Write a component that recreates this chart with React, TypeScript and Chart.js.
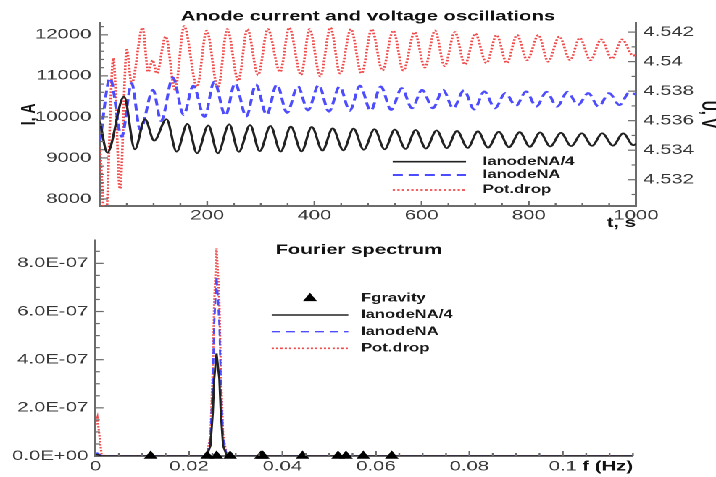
import React, { useEffect, useRef } from 'react';
import { Chart, registerables } from 'chart.js';

Chart.register(...registerables);

// ---------- layout constants (not data) ----------
const W = 494;
const S = 716 / W;
const TOP_H = 232;
const BOT_H = 245;
const FONT = "'Liberation Sans', Arial, Helvetica, sans-serif";
const AXIS = '#6b6b6b';
const TICK_TXT = '#383838';
const RED = '#f04a4a';
const BLUE = '#4d4dff';
const BLACK = '#222222';

// ---------- top panel data ----------
const timeTicks = [200, 400, 600, 800, 1000];
const timeTickLabels = ['200', '400', '600', '800', '1000'];
const currentTicks = [8000, 9000, 10000, 11000, 12000];
const currentTickLabels = ['8000', '9000', '10000', '11000', '12000'];
const voltageTicks = [4.532, 4.534, 4.536, 4.538, 4.54, 4.542];
const voltageTickLabels = ['4.532', '4.534', '4.536', '4.538', '4.54', '4.542'];

const blackT = [0, 13.6, 44.8, 65, 84, 101, 124, 143, 163, 181, 202, 220, 241, 259, 280, 298, 318, 337, 356, 376, 395, 415, 434, 454, 473, 492, 512, 531, 550, 570, 589, 608, 628, 647, 666, 686, 705, 724, 744, 763, 783, 802, 821, 840, 860, 879, 899, 918, 937, 957, 976, 995, 1000];
const blackI = [9885, 9130, 10495, 9212, 9944, 9420, 9944, 9154, 9830, 9115, 9790, 9115, 9820, 9150, 9800, 9165, 9780, 9155, 9765, 9160, 9755, 9180, 9720, 9185, 9715, 9200, 9700, 9210, 9690, 9220, 9680, 9230, 9670, 9240, 9660, 9245, 9650, 9250, 9640, 9260, 9630, 9270, 9620, 9280, 9610, 9290, 9600, 9295, 9600, 9300, 9600, 9310, 9340];

const blueT = [0, 18.7, 40.5, 59, 75, 99, 114, 136, 156, 174, 195, 213, 234, 252, 273, 291, 311, 330, 349, 369, 388, 408, 427, 447, 466, 485, 505, 524, 543, 563, 582, 601, 621, 640, 659, 679, 698, 717, 737, 756, 776, 795, 814, 833, 853, 872, 892, 911, 930, 950, 969, 988, 1000];
const blueI = [9400, 10944, 9520, 10822, 9683, 10658, 9900, 10960, 10050, 10760, 10000, 10860, 10030, 10820, 10010, 10790, 10050, 10790, 10100, 10750, 10160, 10780, 10130, 10740, 10150, 10760, 10150, 10740, 10170, 10700, 10210, 10660, 10210, 10660, 10210, 10650, 10180, 10620, 10210, 10580, 10270, 10620, 10250, 10610, 10250, 10610, 10290, 10580, 10250, 10580, 10290, 10600, 10540];

const redT = [0, 10, 24.9, 37.3, 49.8, 59, 79.5, 90, 98, 106, 122.5, 140, 157, 181, 199, 220, 237.5, 258, 275, 295, 313, 336, 353, 375, 391, 411, 430, 448, 468, 488, 507, 527, 547, 566, 587, 606, 625, 643, 662, 681, 700, 721, 740, 759, 778, 797, 818, 836, 857, 877, 895, 915, 935, 955, 974, 995, 1000];
const redU = [4.5342, 4.529, 4.54024, 4.53138, 4.5408, 4.5385, 4.5423, 4.5393, 4.5401, 4.5392, 4.5417, 4.5381, 4.5424, 4.5383, 4.5421, 4.5382, 4.5422, 4.5387, 4.5422, 4.5391, 4.5422, 4.5393, 4.5423, 4.5391, 4.5422, 4.539, 4.5423, 4.5392, 4.5422, 4.5392, 4.5422, 4.5394, 4.5421, 4.5394, 4.542, 4.5396, 4.5421, 4.5397, 4.542, 4.5398, 4.5419, 4.5399, 4.5418, 4.5399, 4.5418, 4.5401, 4.5418, 4.54, 4.5417, 4.5401, 4.5416, 4.5401, 4.5415, 4.5402, 4.5415, 4.5404, 4.5405];

// ---------- bottom panel data ----------
const freqTicks = [0, 0.02, 0.04, 0.06, 0.08, 0.1];
const freqTickLabels = ['0', '0.02', '0.04', '0.06', '0.08', '0.1'];
const ampTicks = [0, 2e-7, 4e-7, 6e-7, 8e-7];
const ampTickLabels = ['0.0E+00', '2.0E-07', '4.0E-07', '6.0E-07', '8.0E-07'];

const specF = [0, 0.0004, 0.0013, 0.0022, 0.0238, 0.0246, 0.0251, 0.0254, 0.0259, 0.0265, 0.0268, 0.0273, 0.0281, 0.115];
const specRed = [1.3e-7, 1.58e-7, 0.05e-7, 0, 0, 0.87e-7, 3.64e-7, 6.4e-7, 8.62e-7, 6.4e-7, 3.64e-7, 0.87e-7, 0, 0];
const specBlue = [0.1e-7, 0.12e-7, 0.01e-7, 0, 0, 0.75e-7, 3.1e-7, 5.5e-7, 7.44e-7, 5.5e-7, 3.1e-7, 0.75e-7, 0, 0];
const specBlack = [0.05e-7, 0.06e-7, 0, 0, 0, 0.43e-7, 1.8e-7, 3.2e-7, 4.26e-7, 3.2e-7, 1.8e-7, 0.43e-7, 0, 0];

const gravityF = [0.0118, 0.0239, 0.0259, 0.0288, 0.0354, 0.0358, 0.0443, 0.0519, 0.0536, 0.0573, 0.0634];
const gravityA = [0, 0, 0, 0, 0, 0, 0, 0, 0, 0, 0];

// ---------- helpers ----------
function minorSteps(from: number, to: number, step: number, every: number): number[] {
  const out: number[] = [];
  const n = Math.round((to - from) / step);
  for (let i = 0; i <= n; i++) if (i % every !== 0) out.push(from + i * step);
  return out;
}

function xy(xs: number[], ys: number[]) {
  return xs.map((x, i) => ({ x, y: ys[i] }));
}

type TickSet = { id: string; major: number[]; minor: number[] };

function tickMarksPlugin(sets: TickSet[]) {
  return {
    id: 'tickMarks',
    afterDraw(chart: any) {
      const ctx = chart.ctx;
      const a = chart.chartArea;
      ctx.save();
      ctx.strokeStyle = AXIS;
      ctx.lineWidth = 1.2;
      ctx.setLineDash([]);
      sets.forEach((s) => {
        const sc = chart.scales[s.id];
        const draw = (v: number, len: number) => {
          const p = sc.getPixelForValue(v);
          ctx.beginPath();
          if (sc.axis === 'x') {
            ctx.moveTo(p, a.bottom);
            ctx.lineTo(p, a.bottom - len);
          } else if (sc.position === 'left') {
            ctx.moveTo(a.left, p);
            ctx.lineTo(a.left + len, p);
          } else {
            ctx.moveTo(a.right, p);
            ctx.lineTo(a.right - len, p);
          }
          ctx.stroke();
        };
        const isX = sc.axis === 'x';
        s.major.forEach((v) => draw(v, isX ? 5 : 5.5));
        s.minor.forEach((v) => draw(v, 3));
      });
      ctx.restore();
    },
  };
}

type LegendLayout = { x1: number; x2: number; tx: number; rows: number[]; triX?: number; triR?: number };

function legendPlugin(L: LegendLayout, extra?: (chart: any) => void) {
  return {
    id: 'customLegend',
    afterDraw(chart: any) {
      const ctx = chart.ctx;
      ctx.save();
      chart.data.datasets.forEach((ds: any, i: number) => {
        const y = L.rows[i];
        if (ds.showLine === false) {
          const r = L.triR || 5;
          const cx = L.triX || (L.x1 + L.x2) / 2;
          ctx.beginPath();
          ctx.moveTo(cx, y - r);
          ctx.lineTo(cx + r * 0.866, y + r / 2);
          ctx.lineTo(cx - r * 0.866, y + r / 2);
          ctx.closePath();
          ctx.fillStyle = ds.backgroundColor;
          ctx.fill();
        } else {
          ctx.beginPath();
          ctx.setLineDash(ds.borderDash || []);
          ctx.lineWidth = ds.borderWidth;
          ctx.strokeStyle = ds.borderColor;
          ctx.moveTo(L.x1, y);
          ctx.lineTo(L.x2, y);
          ctx.stroke();
          ctx.setLineDash([]);
        }
        ctx.font = `bold 11.5px ${FONT}`;
        ctx.fillStyle = '#1a1a1a';
        ctx.textBaseline = 'middle';
        ctx.textAlign = 'left';
        ctx.fillText(ds.label, L.tx, y);
      });
      if (extra) extra(chart);
      ctx.restore();
    },
  };
}

const tickFont = { family: FONT, size: 14 };
const boldFont = { family: FONT, size: 14, weight: 'bold' as const };

function fixTicks(values: number[]) {
  return (axis: any) => {
    axis.ticks = values.map((v) => ({ value: v }));
  };
}

export default function App() {
  const topRef = useRef<HTMLCanvasElement>(null);
  const botRef = useRef<HTMLCanvasElement>(null);

  useEffect(() => {
    Chart.defaults.font.family = FONT;

    const top = new Chart(topRef.current as HTMLCanvasElement, {
      type: 'line',
      data: {
        datasets: [
          {
            label: 'IanodeNA/4',
            data: xy(blackT, blackI),
            yAxisID: 'yI',
            borderColor: BLACK,
            borderWidth: 1.7,
            pointRadius: 0,
            cubicInterpolationMode: 'monotone',
          },
          {
            label: 'IanodeNA',
            data: xy(blueT, blueI),
            yAxisID: 'yI',
            borderColor: BLUE,
            borderWidth: 2,
            borderDash: [7, 4],
            pointRadius: 0,
            cubicInterpolationMode: 'monotone',
          },
          {
            label: 'Pot.drop',
            data: xy(redT, redU),
            yAxisID: 'yU',
            borderColor: RED,
            borderWidth: 1.8,
            borderDash: [1.6, 1.6],
            pointRadius: 0,
            cubicInterpolationMode: 'monotone',
          },
        ] as any,
      },
      options: {
        animation: false,
        responsive: false,
        devicePixelRatio: 2,
        layout: { padding: 0 },
        plugins: {
          legend: { display: false },
          tooltip: { enabled: false },
          title: {
            display: true,
            fullSize: false,
            text: 'Anode current and voltage oscillations',
            font: boldFont,
            color: '#111111',
            padding: { top: 8, bottom: -2 },
          },
        },
        scales: {
          x: {
            type: 'linear',
            position: 'bottom',
            min: 0,
            max: 1000,
            bounds: 'data',
            grid: { display: false, drawTicks: false },
            border: { display: true, color: AXIS, width: 2 },
            ticks: {
              font: tickFont,
              color: TICK_TXT,
              padding: 1,
              autoSkip: false,
              maxRotation: 0,
              minRotation: 0,
              callback: (_v: any, i: number) => timeTickLabels[i],
            },
            afterBuildTicks: fixTicks(timeTicks),
            afterFit: (s: any) => {
              s.height = 26;
              s.paddingLeft = 0;
              s.paddingRight = 0;
            },
            title: {
              display: true,
              text: 't, s',
              align: 'end',
              font: boldFont,
              color: '#111111',
              padding: { top: 0, bottom: 0.5 },
            },
          },
          yI: {
            type: 'linear',
            position: 'left',
            min: 7829,
            max: 12293,
            bounds: 'data',
            grid: { display: false, drawTicks: false },
            border: { display: true, color: AXIS, width: 1.5 },
            ticks: {
              font: tickFont,
              color: TICK_TXT,
              padding: 6,
              autoSkip: false,
              callback: (_v: any, i: number) => currentTickLabels[i],
            },
            afterBuildTicks: fixTicks(currentTicks),
            afterFit: (s: any) => {
              s.width = 69;
              s.paddingTop = 0;
              s.paddingBottom = 0;
            },
            title: {
              display: true,
              text: 'I, A',
              font: boldFont,
              color: '#111111',
              padding: { top: 11.5, bottom: 0 },
            },
          },
          yU: {
            type: 'linear',
            position: 'right',
            min: 4.53022,
            max: 4.54263,
            bounds: 'data',
            grid: { display: false, drawTicks: false },
            border: { display: true, color: AXIS, width: 1.5 },
            ticks: {
              font: tickFont,
              color: TICK_TXT,
              padding: 5,
              autoSkip: false,
              callback: (_v: any, i: number) => voltageTickLabels[i],
            },
            afterBuildTicks: fixTicks(voltageTicks),
            afterFit: (s: any) => {
              s.width = 55.2;
              s.paddingTop = 0;
              s.paddingBottom = 0;
            },
            title: {
              display: true,
              text: 'U, V',
              font: boldFont,
              color: '#111111',
              padding: { top: -2.9, bottom: 0 },
            },
          },
        },
      } as any,
      plugins: [
        tickMarksPlugin([
          { id: 'x', major: timeTicks, minor: minorSteps(0, 1000, 50, 4) },
          { id: 'yI', major: currentTicks, minor: minorSteps(8000, 12200, 200, 5) },
          { id: 'yU', major: voltageTicks, minor: minorSteps(4.53, 4.542, 0.001, 2) },
        ]),
        legendPlugin({ x1: 392.7 / S, x2: 466 / S, tx: 482.7 / S, rows: [161.7, 175, 190] }),
      ] as any,
    });

    const bottom = new Chart(botRef.current as HTMLCanvasElement, {
      type: 'line',
      data: {
        datasets: [
          {
            label: 'Fgravity',
            data: xy(gravityF, gravityA),
            showLine: false,
            pointStyle: 'triangle',
            pointRadius: 5.5,
            pointBorderWidth: 0,
            backgroundColor: '#000000',
            borderColor: '#000000',
            clip: false,
          },
          {
            label: 'IanodeNA/4',
            data: xy(specF, specBlack),
            borderColor: BLACK,
            borderWidth: 1.5,
            pointRadius: 0,
          },
          {
            label: 'IanodeNA',
            data: xy(specF, specBlue),
            borderColor: BLUE,
            borderWidth: 1.4,
            borderDash: [6, 4],
            pointRadius: 0,
          },
          {
            label: 'Pot.drop',
            data: xy(specF, specRed),
            borderColor: RED,
            borderWidth: 1.6,
            borderDash: [1.5, 1.5],
            pointRadius: 0,
          },
        ] as any,
      },
      options: {
        animation: false,
        responsive: false,
        devicePixelRatio: 2,
        layout: { padding: { top: 8, right: 57.3, left: 0, bottom: 0 } },
        plugins: {
          legend: { display: false },
          tooltip: { enabled: false },
          title: { display: false },
        },
        scales: {
          x: {
            type: 'linear',
            position: 'bottom',
            min: 0,
            max: 0.115,
            bounds: 'data',
            grid: { display: false, drawTicks: false },
            border: { display: true, color: AXIS, width: 2 },
            ticks: {
              font: (c: any) => (c.index === freqTickLabels.length ? boldFont : tickFont),
              color: (c: any) => (c.index === freqTickLabels.length ? '#111111' : TICK_TXT),
              padding: 2,
              autoSkip: false,
              maxRotation: 0,
              minRotation: 0,
              callback: (_v: any, i: number) => (i < freqTickLabels.length ? freqTickLabels[i] : 'f (Hz)'),
            },
            afterBuildTicks: (axis: any) => {
              axis.ticks = [...freqTicks.map((v) => ({ value: v })), { value: 0.1096 }];
            },
            afterFit: (s: any) => {
              s.height = 21;
              s.paddingLeft = 0;
              s.paddingRight = 0;
            },
          },
          y: {
            type: 'linear',
            position: 'left',
            min: 0,
            max: 8.97e-7,
            bounds: 'data',
            grid: { display: false, drawTicks: false },
            border: { display: true, color: AXIS, width: 1.5 },
            ticks: {
              font: tickFont,
              color: TICK_TXT,
              padding: 5,
              autoSkip: false,
              callback: (_v: any, i: number) => ampTickLabels[i],
            },
            afterBuildTicks: fixTicks(ampTicks),
            afterFit: (s: any) => {
              s.width = 65.9;
              s.paddingTop = 0;
              s.paddingBottom = 0;
            },
          },
        },
      } as any,
      plugins: [
        tickMarksPlugin([
          { id: 'x', major: freqTicks.slice(1), minor: minorSteps(0, 0.115, 0.005, 4) },
          { id: 'y', major: ampTicks.slice(1), minor: minorSteps(0, 8.5e-7, 0.5e-7, 4) },
        ]),
        legendPlugin(
          {
            x1: 271.7 / S,
            x2: 348.3 / S,
            tx: 361 / S,
            rows: [66.3, 83, 99.7, 116.3],
            triX: 310 / S,
            triR: 5.6,
          },
          (chart: any) => {
            const ctx = chart.ctx;
            ctx.font = `bold 14px ${FONT}`;
            ctx.fillStyle = '#111111';
            ctx.textAlign = 'center';
            ctx.textBaseline = 'middle';
            ctx.fillText('Fourier spectrum', 359 / S, 18);
          }
        ),
      ] as any,
    });

    return () => {
      top.destroy();
      bottom.destroy();
    };
  }, []);

  return (
    <div
      style={{
        position: 'absolute',
        left: 0,
        top: 0,
        width: W,
        height: TOP_H + BOT_H,
        transform: `scaleX(${S})`,
        transformOrigin: '0 0',
        background: '#ffffff',
      }}
    >
      <canvas ref={topRef} width={W} height={TOP_H} />
      <canvas ref={botRef} width={W} height={BOT_H} />
    </div>
  );
}
